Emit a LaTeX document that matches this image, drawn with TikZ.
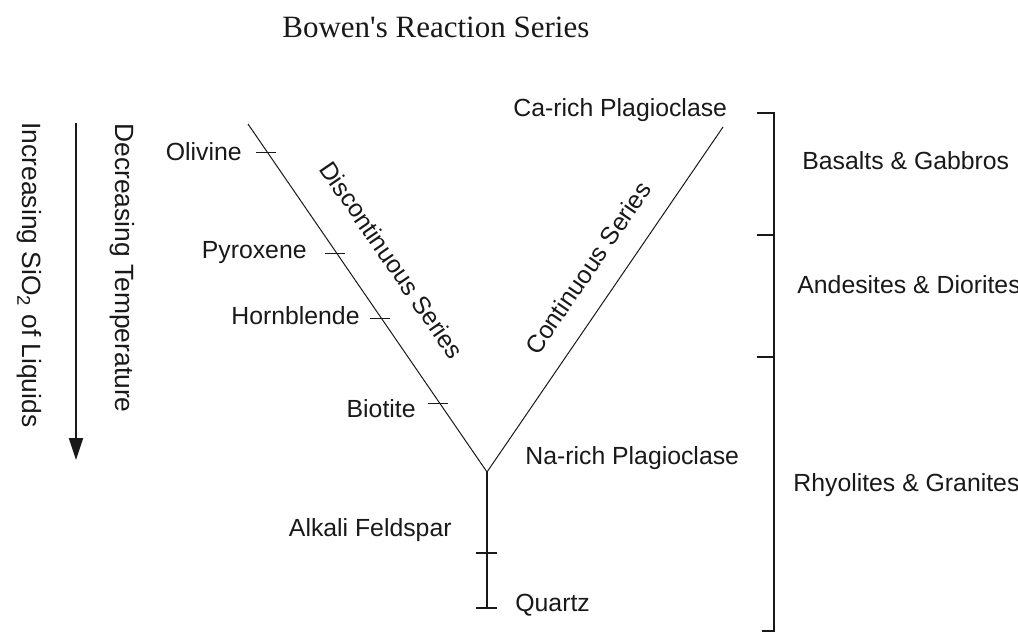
\documentclass[tikz,border=0pt]{standalone}
\usepackage{fontspec}
\setmainfont{Liberation Sans}
\newfontfamily\titlefont{Liberation Serif}
\usepackage{tkz-euclide}
\usetikzlibrary{arrows.meta,calc}
\definecolor{InkClr}{rgb}{0.1,0.1,0.1}

\begin{document}
\begin{tikzpicture}[x=0.5pt,y=-0.5pt,
  lbl/.style={font=\fontsize{12.4}{14}\selectfont,inner sep=0pt,text=InkClr},
  biglbl/.style={font=\fontsize{13.2}{15}\selectfont,inner sep=0pt,text=InkClr},
  vline/.style={line width=0.5pt,color=InkClr},
  stemline/.style={line width=1pt,color=InkClr},
  tickline/.style={line width=0.6pt,color=InkClr}]
\useasboundingbox[fill=white] (0,0) rectangle (1018,634);

\tkzDefPoints{248/124/Ol,487/472/V,723/127/Ca,487/608/Q,487/553/F}

% the two branches and the stem
\draw[vline] (Ol) -- (V) -- (Ca);
\draw[stemline] (V) -- (Q);
\draw[stemline] ($(F)+(-11,0)$) -- ($(F)+(10,0)$);
\draw[stemline] ($(Q)+(-11,0)$) -- ($(Q)+(10,0)$);

% discontinuous series
\foreach \t/\x/\y/\nm/\lab in {0.083/242/160/olv/Olivine,0.371/307/258/pyx/Pyroxene,
    0.560/360/324/hbl/Hornblende,0.802/416/417/bio/Biotite}{
  \coordinate (t\nm) at ($(Ol)!\t!(V)$);
  \draw[tickline] ($(t\nm)+(-12,0)$) -- ($(t\nm)+(8,0)$);
  \node[lbl,anchor=base east] (\nm) at (\x,\y) {\lab};
}
\node[lbl,rotate=-55.5] (dser) at (392,260) {Discontinuous Series};

% continuous series
\node[lbl,rotate=55.6] (cser) at (588,268) {Continuous Series};
\node[lbl,anchor=base west] (capl) at (513,116) {Ca-rich Plagioclase};
\node[lbl,anchor=base west] (napl) at (525,464) {Na-rich Plagioclase};
\node[lbl,anchor=base east] (afs) at (452,536) {Alkali Feldspar};
\node[lbl,anchor=base west] (qtz) at (515,611) {Quartz};

% rock types
\draw[stemline] (757,113) -- (774,113) -- (774,631) -- (762,631);
\draw[stemline] (757,235) -- (774,235);
\draw[stemline] (757,357) -- (774,357);
\node[lbl,anchor=base west] (bas) at (802,169) {Basalts \& Gabbros};
\node[lbl,anchor=base west] (and) at (797,293) {Andesites \& Diorites};
\node[lbl,anchor=base west] (rhy) at (793,491) {Rhyolites \& Granites};

% left side
\draw[-{Triangle[width=7pt,length=11pt]},line width=1pt,color=InkClr] (76,123) -- (76,460);
\node[biglbl,rotate=-90,anchor=base] (temp) at (115,268) {Decreasing Temperature};
\node[biglbl,rotate=-90,anchor=base] (sio) at (22,275) {Increasing SiO\textsubscript{2} of Liquids};

\node[anchor=base west,inner sep=0pt,text=InkClr,font=\titlefont\fontsize{15.5}{18}\selectfont]
  (title) at (282,37) {Bowen\textquotesingle s Reaction Series};
\end{tikzpicture}
\end{document}
